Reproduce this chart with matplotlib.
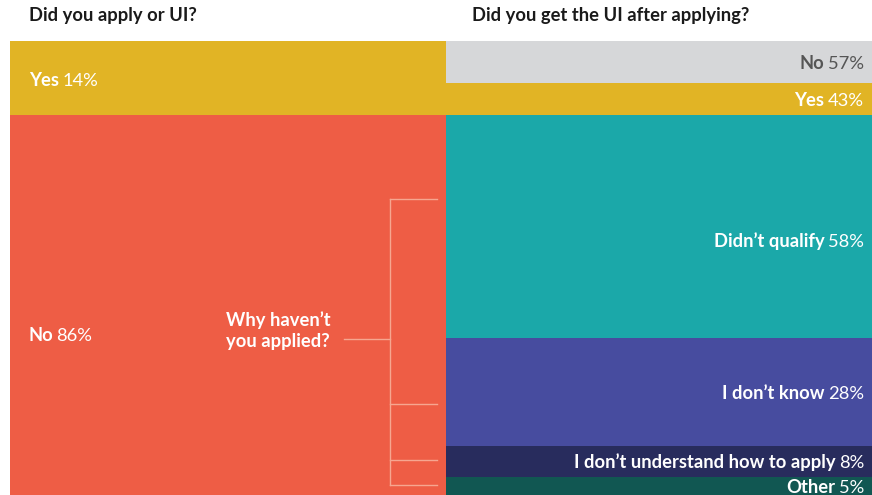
import matplotlib.pyplot as plt

plt.rcParams['font.family'] = ['Lato', 'DejaVu Sans']

# Datos
q1_labels = ['Yes', 'No']
q1_values = [14, 86]
applied_labels = ['No', 'Yes']
applied_values = [57, 43]
why_labels = ["Didn\u2019t qualify", "I don\u2019t know", "I don\u2019t understand how to apply", 'Other']
why_values = [58, 28, 8, 5]

# Colores
GOLD = '#E1B425'
RED = '#EE5D45'
GREY = '#D6D7D9'
applied_colors = [GREY, GOLD]
why_colors = ['#1BA8A9', '#474C9F', '#282C5D', '#115752']
LINE = '#F6A690'

SPLIT = 0.506  # frontera entre columna izquierda y derecha
W, H = 872, 495
FS = 13.2

fig = plt.figure(figsize=(W / 100, H / 100), dpi=100)
fig.patch.set_facecolor('white')

ax_top = fig.add_axes([10 / W, (H - 115) / H, 862 / W, 74 / H])
ax_bot = fig.add_axes([10 / W, 0, 862 / W, 380 / H])
for ax in (ax_top, ax_bot):
    ax.set_xlim(0, 1)
    ax.axis('off')
ax_top.set_ylim(100, 0)
ax_bot.set_ylim(380 / 3.85, 0)


def label(ax, x, y, name, pct, color='white', align='right'):
    if align == 'right':
        t = ax.text(x, y, f'{pct}%', ha='right', va='center', fontsize=FS, color=color)
        ax.annotate(name, xy=(0, 0), xycoords=t, xytext=(-2.5, 0), textcoords='offset points',
                    ha='right', va='bottom', fontsize=FS, fontweight='bold', color=color)
    else:
        t = ax.text(x, y, name, ha='left', va='center', fontsize=FS, fontweight='bold', color=color)
        ax.annotate(f'{pct}%', xy=(1, 0), xycoords=t, xytext=(2.5, 0), textcoords='offset points',
                    ha='left', va='bottom', fontsize=FS, color=color)


# Bloque superior: Yes
ax_top.bar(0, 100, width=SPLIT, bottom=0, align='edge', color=GOLD, linewidth=0)
bottom = 0
for lab, val, col in zip(applied_labels, applied_values, applied_colors):
    ax_top.bar(SPLIT, val, width=1 - SPLIT, bottom=bottom, align='edge', color=col, linewidth=0)
    label(ax_top, 0.9907, bottom + val / 2 + 3, lab, val,
          color='#555555' if col == GREY else 'white')
    bottom += val
label(ax_top, 0.022, 53, q1_labels[0], q1_values[0], align='left')

# Bloque inferior: No
ax_bot.bar(0, 100, width=SPLIT, bottom=0, align='edge', color=RED, linewidth=0)
bottom = 0
for lab, val, col in zip(why_labels, why_values, why_colors):
    ax_bot.bar(SPLIT, val, width=1 - SPLIT, bottom=bottom, align='edge', color=col, linewidth=0)
    off = 4 if val > 40 else 0.5
    label(ax_bot, 0.9907, bottom + val / 2 + off, lab, val)
    bottom += val
label(ax_bot, 0.021, 57.4, q1_labels[1], q1_values[1], align='left')

# Corchete "Why haven't you applied?"
ax_bot.text(0.2506, 56.1, 'Why haven\u2019t\nyou applied?', ha='left', va='center',
            fontsize=FS, fontweight='bold', color='white', linespacing=1.3)
ticks = [21.8, 75.1, 89.6, 96.1]
ax_bot.plot([0.4408, 0.4408], [ticks[0], ticks[-1]], color=LINE, lw=1)
ax_bot.plot([0.3875, 0.4408], [58.2, 58.2], color=LINE, lw=1)
for ty in ticks:
    ax_bot.plot([0.4408, 0.4954], [ty, ty], color=LINE, lw=1)

# Títulos
fig.text(29 / W, 1 - 16 / H, 'Did you apply or UI?', ha='left', va='center',
         fontsize=FS, fontweight='bold', color='#1A1A1A')
fig.text(472 / W, 1 - 16 / H, 'Did you get the UI after applying?', ha='left', va='center',
         fontsize=FS, fontweight='bold', color='#1A1A1A')

fig.savefig('out.png', dpi=100)
